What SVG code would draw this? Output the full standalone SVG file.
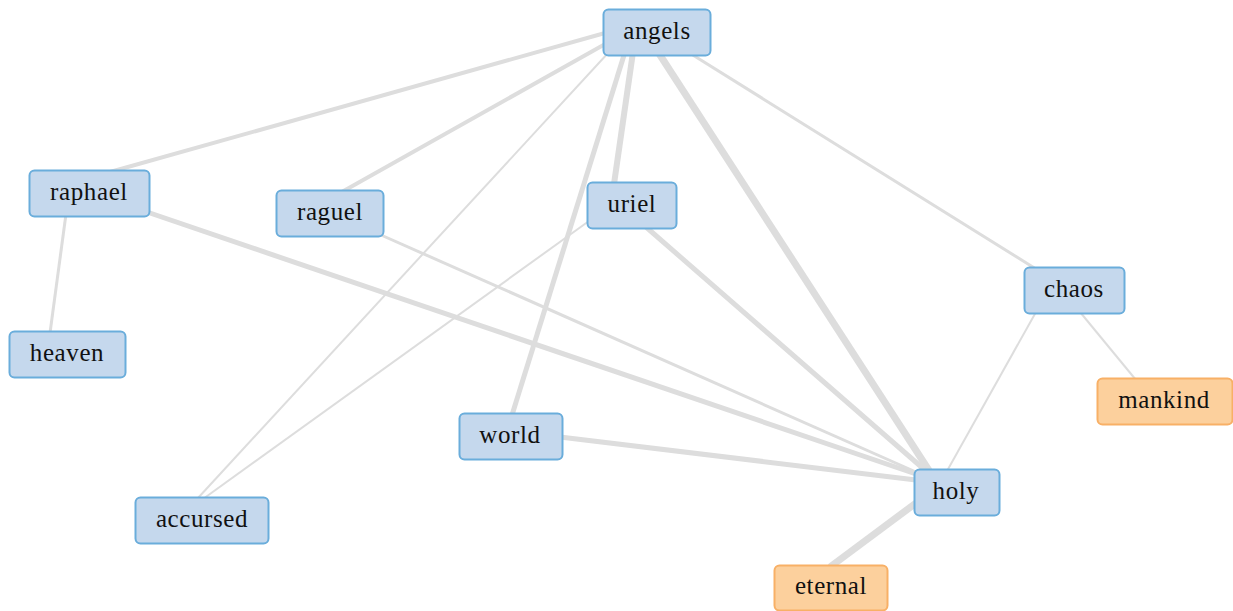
<svg xmlns="http://www.w3.org/2000/svg" width="1233" height="611" viewBox="0 0 1233 611">
<style>
.e{stroke:#dddddd;stroke-linecap:butt;fill:none}
.n rect{fill:#c5d8ed;stroke:#6aaddb;stroke-width:2}
.o rect{fill:#fcd09d;stroke:#f8b066;stroke-width:2}
text{font-family:"Liberation Serif","Times New Roman",serif;font-size:25px;letter-spacing:0.6px;fill:#111111;text-anchor:middle}
</style>
<rect width="1233" height="611" fill="#ffffff"/>
<g id="connectors">
<line class="e" x1="605" y1="33" x2="110" y2="172" stroke-width="4"/>
<line class="e" x1="607" y1="43" x2="340" y2="193" stroke-width="4"/>
<line class="e" x1="609" y1="52" x2="198" y2="498" stroke-width="2"/>
<line class="e" x1="625" y1="52" x2="512" y2="415" stroke-width="5"/>
<line class="e" x1="633" y1="52" x2="614" y2="184" stroke-width="6"/>
<line class="e" x1="658" y1="52" x2="930" y2="472" stroke-width="7"/>
<line class="e" x1="688" y1="52" x2="1036" y2="269" stroke-width="3"/>
<line class="e" x1="66" y1="214" x2="50" y2="333" stroke-width="3"/>
<line class="e" x1="147" y1="212" x2="916" y2="474" stroke-width="5"/>
<line class="e" x1="381" y1="235" x2="916" y2="472" stroke-width="3"/>
<line class="e" x1="589" y1="221" x2="203" y2="499" stroke-width="2"/>
<line class="e" x1="646" y1="227" x2="926" y2="471" stroke-width="5"/>
<line class="e" x1="560" y1="437" x2="916" y2="480" stroke-width="5"/>
<line class="e" x1="1036" y1="312" x2="947" y2="471" stroke-width="2"/>
<line class="e" x1="1080" y1="312" x2="1136" y2="380" stroke-width="2"/>
<line class="e" x1="916" y1="503" x2="830" y2="567" stroke-width="7"/>
</g>
<g id="angels" class="n"><rect x="603.5" y="9.5" width="107" height="46" rx="5"/><text x="657" y="39">angels</text></g>
<g id="raphael" class="n"><rect x="29.5" y="170.5" width="120" height="46" rx="5"/><text x="89" y="200">raphael</text></g>
<g id="raguel" class="n"><rect x="276.5" y="190.5" width="107" height="46" rx="5"/><text x="330" y="220">raguel</text></g>
<g id="uriel" class="n"><rect x="587.5" y="182.5" width="89" height="46" rx="5"/><text x="632" y="212">uriel</text></g>
<g id="chaos" class="n"><rect x="1024.5" y="267.5" width="100" height="46" rx="5"/><text x="1074" y="297">chaos</text></g>
<g id="heaven" class="n"><rect x="9.5" y="331.5" width="116" height="46" rx="5"/><text x="67" y="361">heaven</text></g>
<g id="mankind" class="o"><rect x="1097.5" y="378.5" width="135" height="46" rx="5"/><text x="1164" y="408">mankind</text></g>
<g id="world" class="n"><rect x="459.5" y="413.5" width="103" height="46" rx="5"/><text x="510" y="443">world</text></g>
<g id="holy" class="n"><rect x="914.5" y="469.5" width="85" height="46" rx="5"/><text x="956" y="499">holy</text></g>
<g id="accursed" class="n"><rect x="135.5" y="497.5" width="133" height="46" rx="5"/><text x="202" y="527">accursed</text></g>
<g id="eternal" class="o"><rect x="774.5" y="565.5" width="113" height="45" rx="5"/><text x="831" y="594">eternal</text></g>
</svg>
